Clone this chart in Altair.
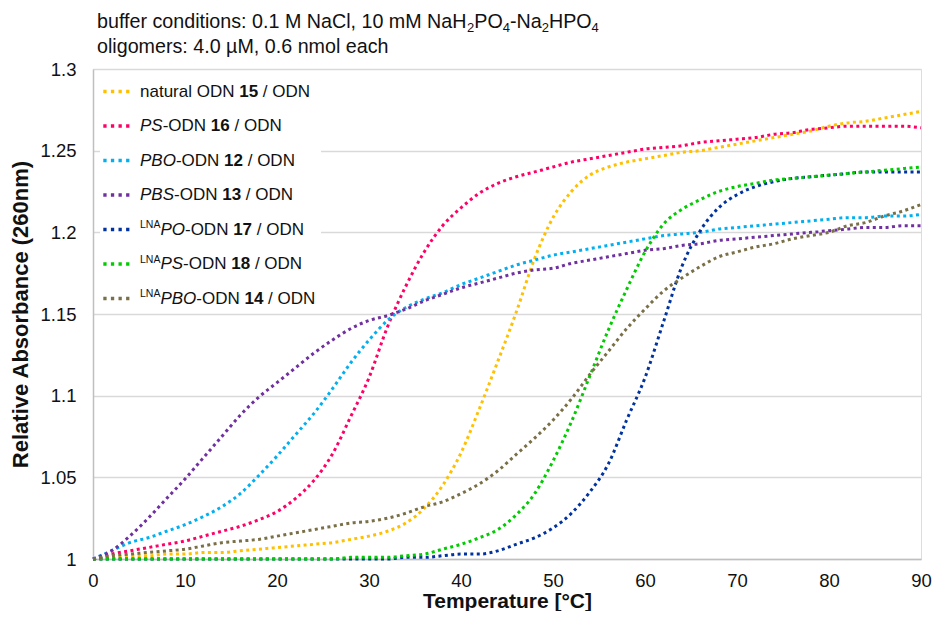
import altair as alt
import pandas as pd

# ---------------- data ----------------
temps = list(range(0, 91, 2))

natural_15 = [1.000, 1.001, 1.002, 1.002, 1.003, 1.003, 1.004, 1.004, 1.005, 1.006,
              1.007, 1.008, 1.009, 1.010, 1.012, 1.014, 1.017, 1.022, 1.031, 1.045,
              1.065, 1.092, 1.121, 1.151, 1.184, 1.209, 1.225, 1.235, 1.240, 1.243,
              1.245, 1.247, 1.249, 1.250, 1.252, 1.254, 1.256, 1.258, 1.260, 1.262,
              1.265, 1.267, 1.268, 1.270, 1.272, 1.274]
ps_16 = [1.000, 1.003, 1.005, 1.007, 1.009, 1.011, 1.014, 1.017, 1.020, 1.024,
         1.029, 1.037, 1.048, 1.064, 1.087, 1.111, 1.142, 1.167, 1.188, 1.204,
         1.215, 1.224, 1.230, 1.234, 1.237, 1.240, 1.243, 1.245, 1.247, 1.249,
         1.251, 1.252, 1.253, 1.255, 1.256, 1.257, 1.258, 1.260, 1.261, 1.263,
         1.264, 1.265, 1.265, 1.265, 1.265, 1.264]
pbo_12 = [1.000, 1.005, 1.010, 1.013, 1.017, 1.021, 1.026, 1.032, 1.040, 1.051,
          1.063, 1.076, 1.089, 1.104, 1.120, 1.134, 1.146, 1.154, 1.159, 1.163,
          1.168, 1.172, 1.176, 1.180, 1.183, 1.186, 1.188, 1.190, 1.192, 1.194,
          1.196, 1.198, 1.199, 1.200, 1.202, 1.203, 1.204, 1.205, 1.206, 1.207,
          1.208, 1.209, 1.209, 1.210, 1.210, 1.211]
pbs_13 = [1.000, 1.005, 1.014, 1.025, 1.037, 1.049, 1.062, 1.075, 1.088, 1.099,
          1.108, 1.117, 1.126, 1.134, 1.141, 1.146, 1.149, 1.153, 1.158, 1.162,
          1.166, 1.169, 1.172, 1.175, 1.177, 1.178, 1.181, 1.183, 1.185, 1.187,
          1.189, 1.190, 1.192, 1.193, 1.195, 1.196, 1.197, 1.198, 1.199, 1.200,
          1.201, 1.202, 1.203, 1.203, 1.204, 1.204]
lna_po_17 = [1.000, 1.000, 1.000, 1.000, 1.000, 1.000, 1.000, 1.000, 1.000, 1.000,
             1.000, 1.000, 1.000, 1.000, 1.000, 1.000, 1.000, 1.001, 1.001, 1.002,
             1.003, 1.003, 1.005, 1.009, 1.013, 1.019, 1.028, 1.041, 1.058, 1.085,
             1.111, 1.145, 1.179, 1.201, 1.215, 1.223, 1.228, 1.231, 1.233, 1.234,
             1.235, 1.236, 1.237, 1.237, 1.237, 1.237]
lna_ps_18 = [1.000, 1.000, 1.000, 1.000, 1.000, 1.000, 1.000, 1.000, 1.000, 1.000,
             1.000, 1.000, 1.000, 1.000, 1.001, 1.001, 1.001, 1.002, 1.003, 1.006,
             1.009, 1.013, 1.018, 1.027, 1.040, 1.060, 1.084, 1.112, 1.140, 1.165,
             1.188, 1.205, 1.214, 1.220, 1.225, 1.228, 1.230, 1.232, 1.233, 1.234,
             1.235, 1.236, 1.237, 1.238, 1.239, 1.240]
lna_pbo_14 = [1.000, 1.002, 1.003, 1.004, 1.005, 1.006, 1.008, 1.010, 1.011, 1.012,
              1.014, 1.016, 1.018, 1.020, 1.022, 1.023, 1.025, 1.028, 1.032, 1.035,
              1.040, 1.046, 1.054, 1.064, 1.074, 1.085, 1.098, 1.113, 1.127, 1.141,
              1.153, 1.164, 1.172, 1.179, 1.185, 1.188, 1.191, 1.193, 1.196, 1.198,
              1.200, 1.204, 1.206, 1.210, 1.213, 1.217]

series_names = ["natural ODN 15 / ODN", "PS-ODN 16 / ODN", "PBO-ODN 12 / ODN",
                "PBS-ODN 13 / ODN", "LNA PO-ODN 17 / ODN", "LNA PS-ODN 18 / ODN",
                "LNA PBO-ODN 14 / ODN"]
series_values = [natural_15, ps_16, pbo_12, pbs_13, lna_po_17, lna_ps_18, lna_pbo_14]
series_colors = ["#FFC000", "#FF0066", "#00B0F0", "#7030A0", "#0033A0", "#00CC00", "#7A7048"]

# rich-text legend labels: (text, style)  n=normal, i=italic, b=bold, s=superscript
legend_labels = [
    [("natural ODN ", "n"), ("15", "b"), (" / ODN", "n")],
    [("PS", "i"), ("-ODN ", "n"), ("16", "b"), (" / ODN", "n")],
    [("PBO", "i"), ("-ODN ", "n"), ("12", "b"), (" / ODN", "n")],
    [("PBS", "i"), ("-ODN ", "n"), ("13", "b"), (" / ODN", "n")],
    [("LNA", "s"), ("PO", "i"), ("-ODN ", "n"), ("17", "b"), (" / ODN", "n")],
    [("LNA", "s"), ("PS", "i"), ("-ODN ", "n"), ("18", "b"), (" / ODN", "n")],
    [("LNA", "s"), ("PBO", "i"), ("-ODN ", "n"), ("14", "b"), (" / ODN", "n")],
]
title_lines = [
    [("buffer conditions: 0.1 M NaCl, 10 mM NaH", "n"), ("2", "sub"), ("PO", "n"), ("4", "sub"),
     ("-Na", "n"), ("2", "sub"), ("HPO", "n"), ("4", "sub")],
    [("oligomers: 4.0 \u00b5M, 0.6 nmol each", "n")],
]
x_ticks = list(range(0, 91, 10))
y_ticks = [1.0, 1.05, 1.1, 1.15, 1.2, 1.25, 1.3]

# ---------------- layout helpers ----------------
FONT = "Liberation Sans"
ARIAL = {' ': 278, '.': 278, ',': 278, ':': 278, '-': 333, '/': 278, '\u00b5': 576,
         'a': 556, 'b': 556, 'c': 500, 'd': 556, 'e': 556, 'f': 278, 'g': 556, 'h': 556,
         'i': 222, 'l': 222, 'm': 833, 'n': 556, 'o': 556, 'r': 333, 's': 500, 't': 278,
         'u': 556, 'A': 667, 'B': 667, 'C': 722, 'D': 722, 'H': 722, 'L': 556, 'M': 833,
         'N': 722, 'O': 778, 'P': 667, 'S': 667}
for d in "0123456789":
    ARIAL[d] = 556


def tw(s, size):
    return sum(ARIAL.get(c, 556) for c in s) * size / 1000.0


W, H = 828, 490
LEFT, TOP = 85, 61
LEG_SIZE, SUP_SIZE = 17, 10.5
TITLE_SIZE, SUB_SIZE = 19.7, 13


def add_segment(rows, x, y, text, st, size):
    lead = len(text) - len(text.lstrip(" "))
    rows.append({"px": x + tw(" " * lead, size), "py": y, "t": text.strip(" "), "st": st})
    return x + tw(text, size)


rows = []
for i, segs in enumerate(legend_labels):
    yc = 22.5 + i * 34.5
    x = 47.0
    for text, st in segs:
        size = SUP_SIZE if st == "s" else LEG_SIZE
        x = add_segment(rows, x, yc - 4.5 if st == "s" else yc, text, st, size)
for j, segs in enumerate(title_lines):
    yc = -47.5 + j * 25
    x = 4.0
    for text, st in segs:
        size = SUB_SIZE if st == "sub" else TITLE_SIZE
        x = add_segment(rows, x, yc + 6.5 if st == "sub" else yc, text,
                        "tsub" if st == "sub" else "title", size)
txt = pd.DataFrame(rows)

long = []
for k, (name, vals) in enumerate(zip(series_names, series_values)):
    for t, v in zip(temps, vals):
        long.append({"T": t, "A": v, "series": name, "ord": k})
df = pd.DataFrame(long)

swatch = pd.DataFrame({"series": series_names,
                       "sx1": [10.3] * 7, "sx2": [37.0] * 7,
                       "sy": [22.5 + i * 34.5 for i in range(7)]})

color_scale = alt.Scale(domain=series_names, range=series_colors)

lines = alt.Chart(df).mark_line(
    strokeDash=[3, 3.4], strokeWidth=3, interpolate="monotone", strokeCap="butt"
).encode(
    x=alt.X("T:Q", scale=alt.Scale(domain=[0, 90], nice=False),
            axis=alt.Axis(values=x_ticks, title="Temperature [\u00b0C]", grid=False,
                          ticks=False, domainColor="#BFBFBF", domainWidth=1.5,
                          labelFont=FONT, labelFontSize=18.5, labelColor="#111111",
                          labelPadding=12, labelFlush=False,
                          titleFont=FONT, titleFontSize=21, titleFontWeight="bold",
                          titleColor="#111111", titleY=48, titleBaseline="alphabetic")),
    y=alt.Y("A:Q", scale=alt.Scale(domain=[1.0, 1.3], nice=False, zero=False),
            axis=alt.Axis(values=y_ticks, format=".2~f", title="Relative Absorbance (260nm)",
                          grid=True, gridColor="#D9D9D9", gridWidth=1.6, ticks=False,
                          domainColor="#BFBFBF", domainWidth=1.5,
                          labelFont=FONT, labelFontSize=18.5, labelColor="#111111",
                          labelPadding=17,
                          titleFont=FONT, titleFontSize=22, titleFontWeight="bold",
                          titleColor="#111111", titleAngle=-90, titleX=-73, titleY=H / 2,
                          titleAlign="center", titleBaseline="middle")),
    color=alt.Color("series:N", scale=color_scale, legend=None),
    order=alt.Order("ord:Q"),
)

box = alt.Chart(pd.DataFrame({"a": [0]})).mark_rect(color="white").encode(
    x=alt.value(7), x2=alt.value(228), y=alt.value(3), y2=alt.value(243))

sw = alt.Chart(swatch).mark_rule(strokeDash=[3.3, 4.3], strokeWidth=3.3, strokeCap="butt").encode(
    x=alt.X("sx1:Q", scale=None, axis=None), x2="sx2:Q",
    y=alt.Y("sy:Q", scale=None, axis=None),
    color=alt.Color("series:N", scale=color_scale, legend=None))


def text_layer(style, **kw):
    return alt.Chart(txt).transform_filter(alt.datum.st == style).mark_text(
        align="left", baseline="middle", font=FONT, color="#111111", **kw
    ).encode(x=alt.X("px:Q", scale=None, axis=None),
             y=alt.Y("py:Q", scale=None, axis=None), text="t:N")


layers = [
    text_layer("n", fontSize=LEG_SIZE),
    text_layer("i", fontSize=LEG_SIZE, fontStyle="italic"),
    text_layer("b", fontSize=LEG_SIZE, fontWeight="bold"),
    text_layer("s", fontSize=SUP_SIZE),
    text_layer("title", fontSize=TITLE_SIZE),
    text_layer("tsub", fontSize=SUB_SIZE),
]

chart = alt.layer(box, lines, sw, *layers).properties(
    width=W, height=H,
    autosize=alt.AutoSizeParams(type="none"),
    padding={"left": LEFT, "top": TOP, "right": 924 - LEFT - W, "bottom": 603 - TOP - H},
).configure_view(stroke=None).configure(background="white")

chart.save("out.html", embed_options={"renderer": "svg", "actions": False})
